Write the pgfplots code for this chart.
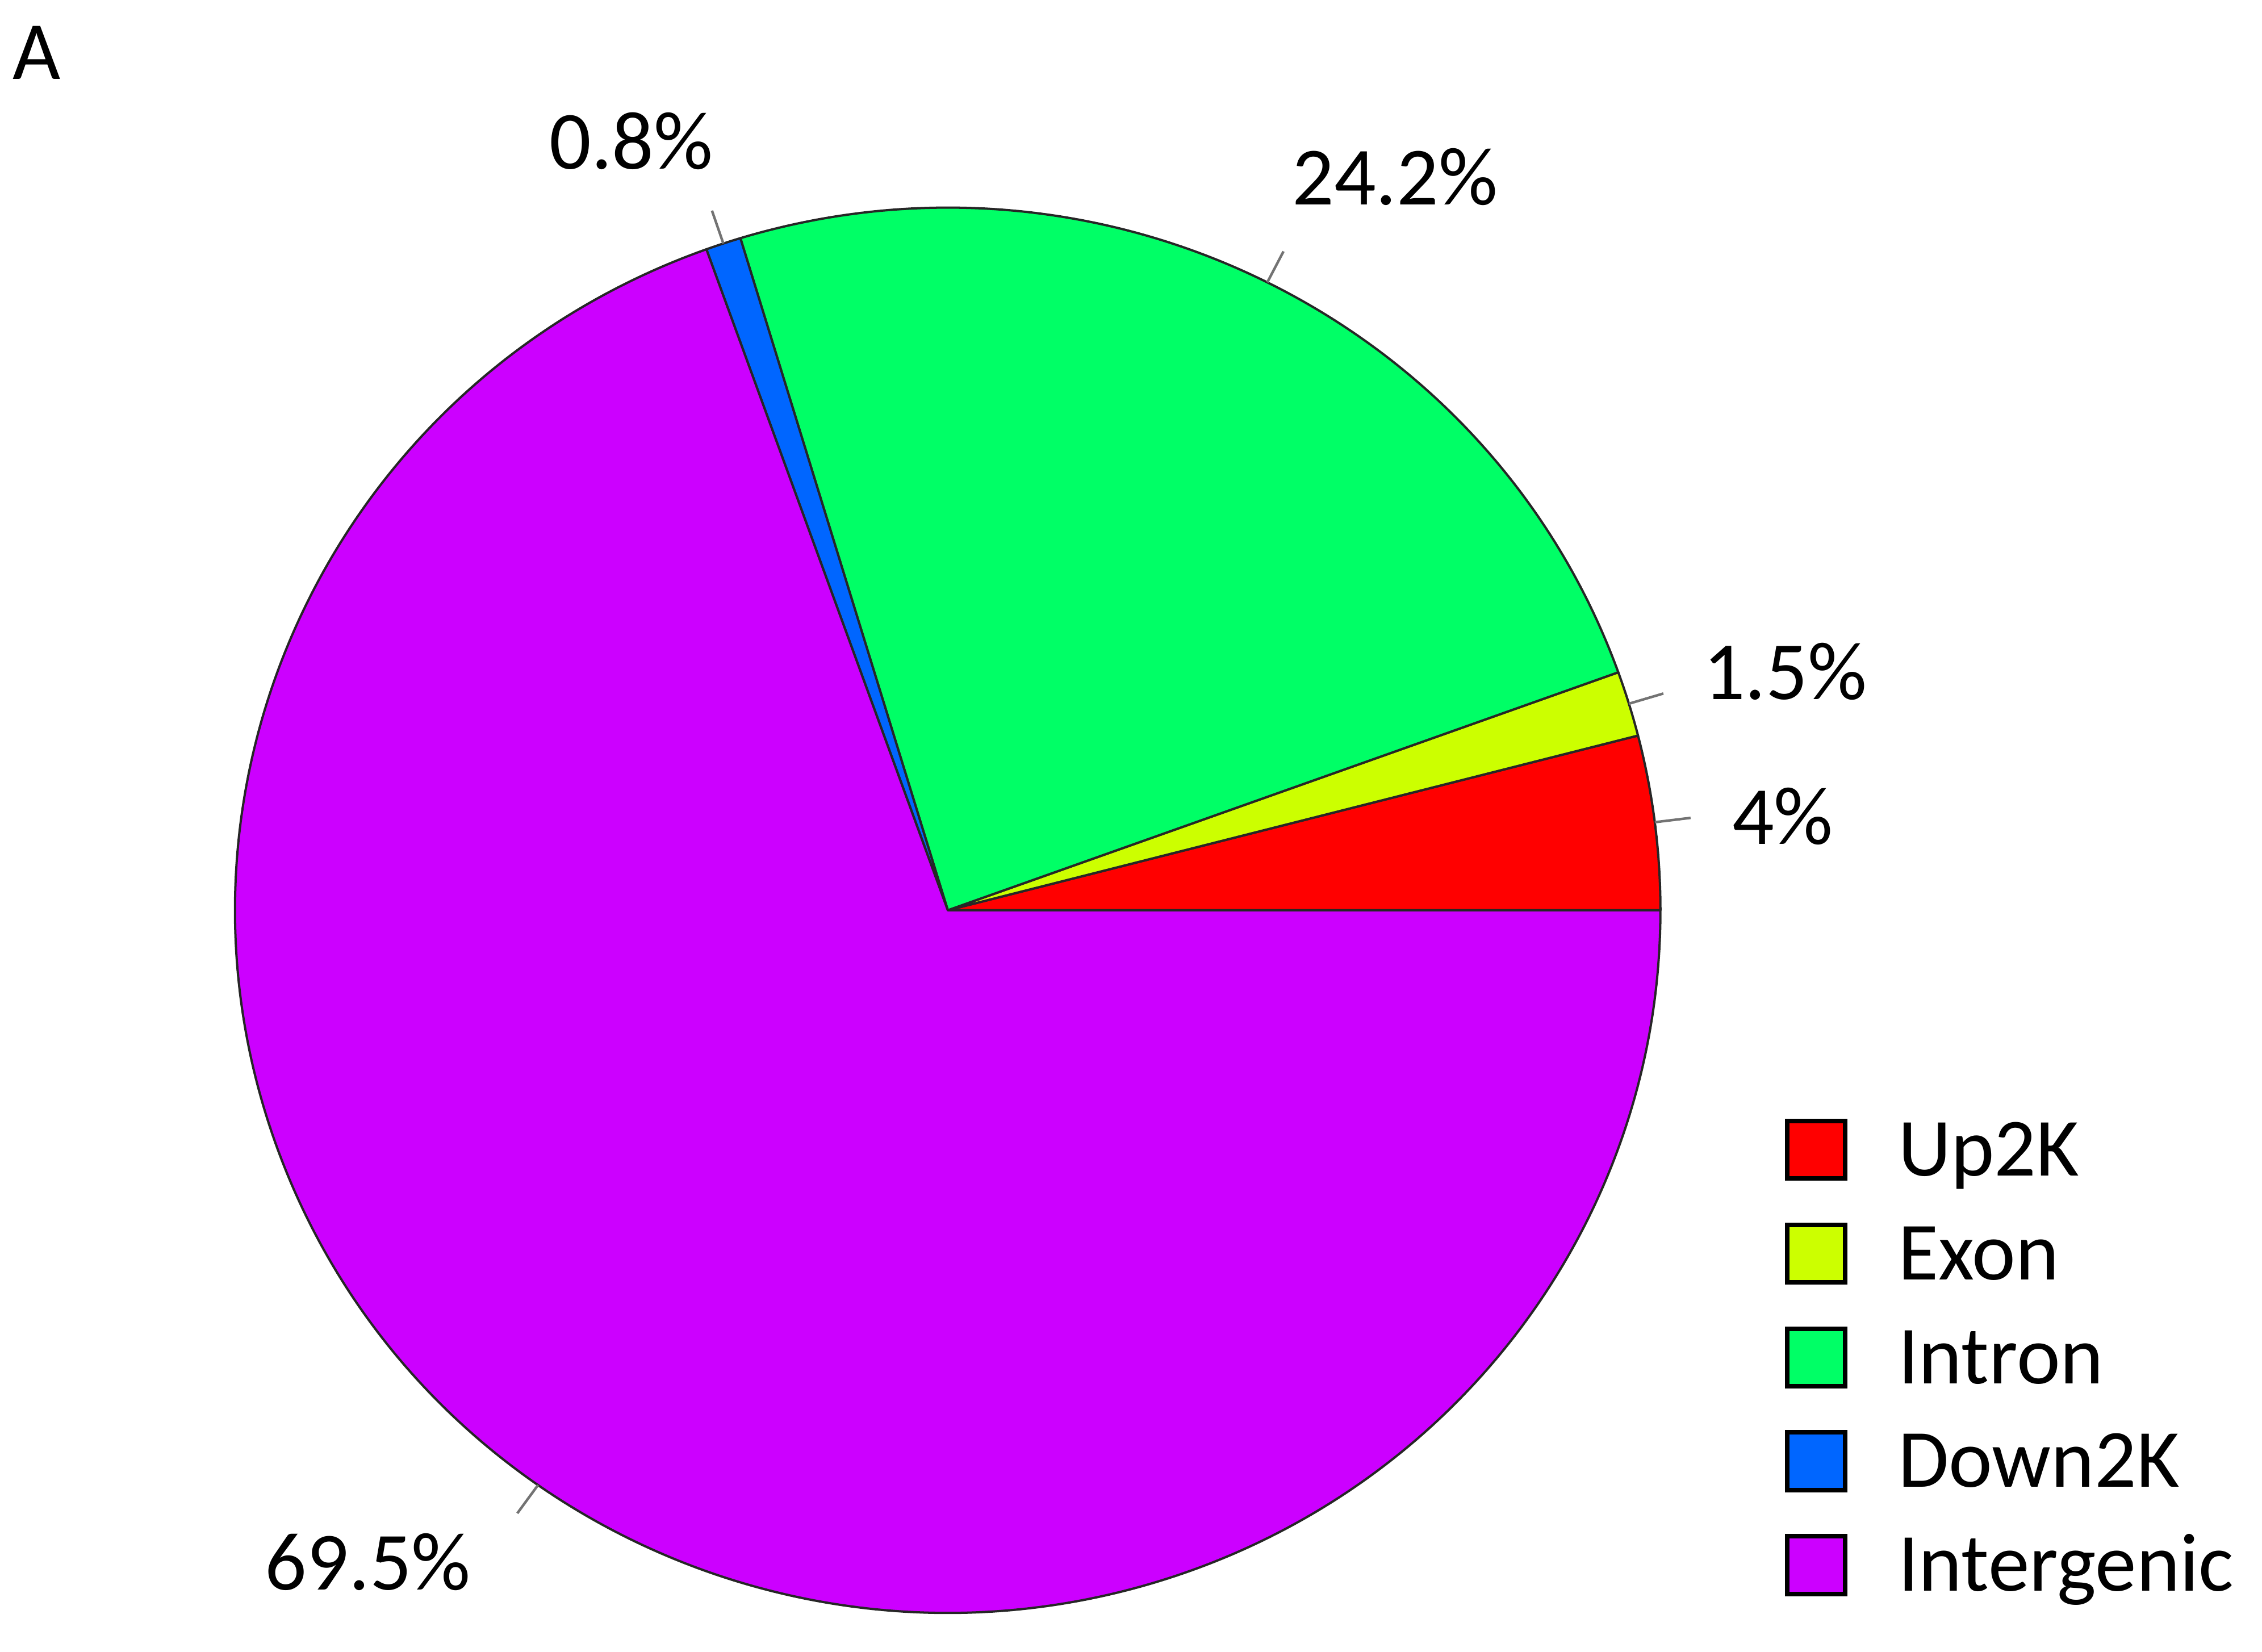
\documentclass[border=0pt]{standalone}
\usepackage{pgfplots}
\pgfplotsset{compat=1.18}
\usepackage{pgfplotstable}
\usepackage{fontspec}
\setmainfont{Carlito}
\definecolor{c1}{HTML}{FF0000}
\definecolor{c2}{HTML}{CCFF00}
\definecolor{c3}{HTML}{00FF66}
\definecolor{c4}{HTML}{0066FF}
\definecolor{c5}{HTML}{CC00FF}

% share of peaks by genomic feature (percent)
\pgfplotstableread{
part pct col ly
Up2K 4.0 c1 797
Exon 1.5 c2 869
Intron 24.2 c3 941
Down2K 0.8 c4 1013
Intergenic 69.5 c5 1085
}\piedata

\begin{document}
\begin{tikzpicture}[lab/.style={font=\fontsize{16.3}{19}\selectfont, inner sep=0pt}]
\begin{axis}[
    x=0.1mm, y=0.1mm, y dir=reverse,
    xmin=0, xmax=1568, ymin=0, ymax=1145,
    scale only axis, hide axis, clip=false,
]
\path (axis cs:0,0) rectangle (axis cs:1568,1145);
\xdef\cum{0}
\foreach \i in {0,...,4}{%
  \pgfplotstablegetelem{\i}{pct}\of\piedata\let\p\pgfplotsretval
  \pgfplotstablegetelem{\i}{col}\of\piedata\let\col\pgfplotsretval
  \pgfplotstablegetelem{\i}{part}\of\piedata\let\nm\pgfplotsretval
  \pgfplotstablegetelem{\i}{ly}\of\piedata\let\ly\pgfplotsretval
  \pgfmathsetmacro\angA{\cum*3.6}
  \pgfmathsetmacro\angB{(\cum+\p)*3.6}
  \pgfmathsetmacro\angM{(\angA+\angB)/2}
  \pgfmathsetmacro\xa{657+494*cos(\angM)}
  \pgfmathsetmacro\ya{631-487*sin(\angM)}
  \pgfmathsetmacro\xb{657+519*cos(\angM)}
  \pgfmathsetmacro\yb{631-511*sin(\angM)}
  \pgfmathsetmacro\bt{\ly-20}
  \pgfmathsetmacro\bb{\ly+20}
  \pgfmathsetmacro\lb{\ly+18}
  \edef\cmd{%
    \noexpand\filldraw[overlay, fill=\col, draw=black!85, line width=0.45pt, line join=round]
      (axis cs:657,631) -- ++(\angA:49.4mm and 48.7mm)
      arc[start angle=\angA, end angle=\angB, x radius=49.4mm, y radius=48.7mm] -- cycle;
    \noexpand\draw[black!55, line width=0.5pt] (axis cs:\xa,\ya) -- (axis cs:\xb,\yb);
    \noexpand\filldraw[fill=\col, draw=black, line width=0.9pt]
      (axis cs:1239,\bt) rectangle (axis cs:1279,\bb);
    \noexpand\node[lab, anchor=base west] at (axis cs:1315,\lb) {\nm};
  }%
  \cmd
  \pgfmathsetmacro\newcum{\cum+\p}\xdef\cum{\newcum}
}
\node[lab, anchor=base west] at (axis cs:8,55) {A};
\node[lab, anchor=base east] at (axis cs:495,117) {0.8\%};
\node[lab, anchor=base west] at (axis cs:895,142) {24.2\%};
\node[lab, anchor=base west] at (axis cs:1180,485) {1.5\%};
\node[lab, anchor=base west] at (axis cs:1200,585) {4\%};
\node[lab, anchor=base east] at (axis cs:327,1102) {69.5\%};
\end{axis}
\end{tikzpicture}
\end{document}
